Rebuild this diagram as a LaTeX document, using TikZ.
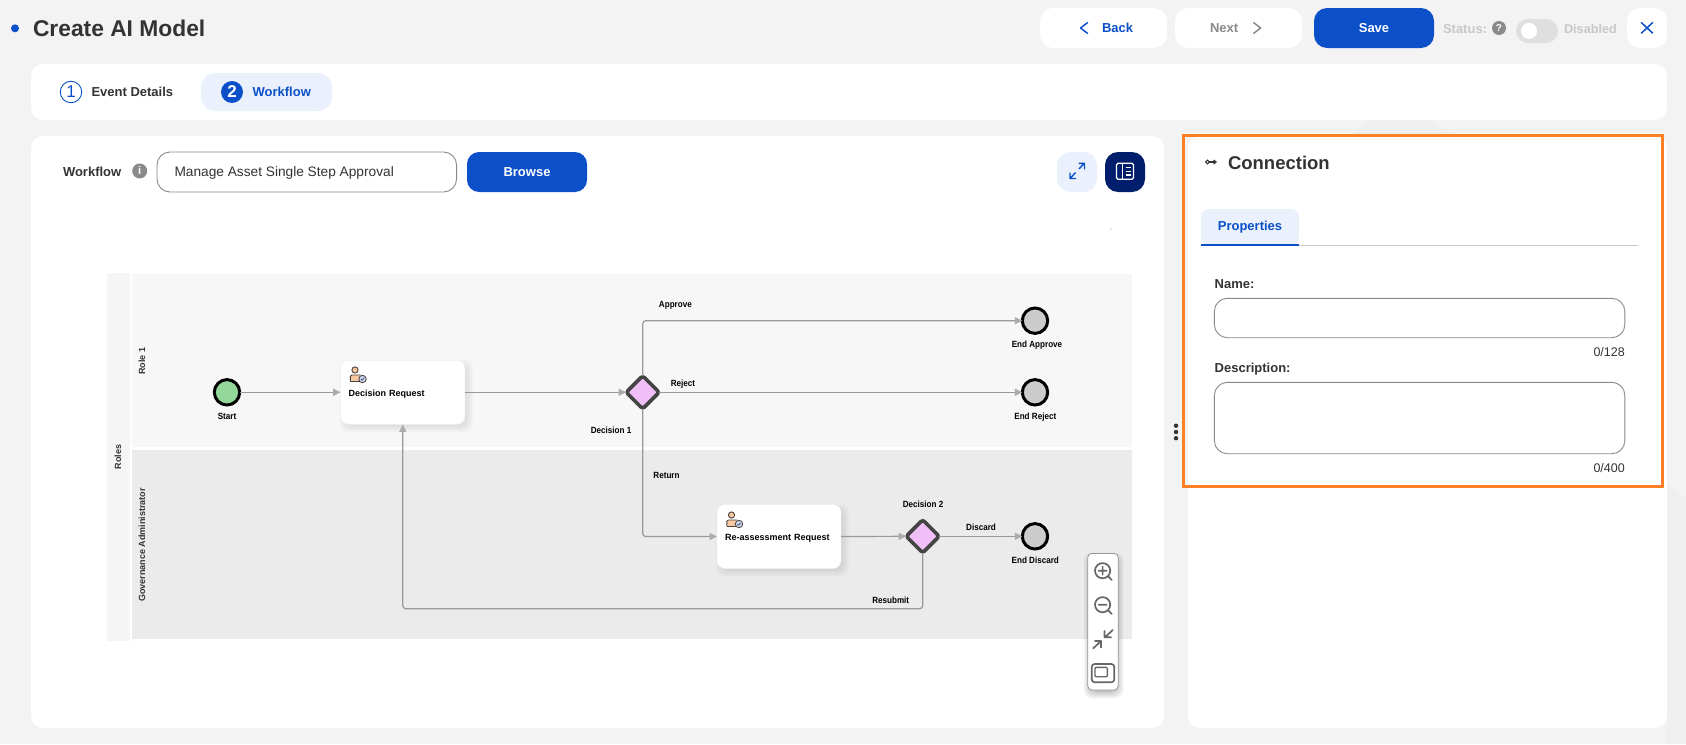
\documentclass[tikz,border=0pt]{standalone}
\usepackage{fontspec}
\setmainfont{Liberation Sans}
\newfontfamily\narrowfont[FakeStretch=0.9]{Liberation Sans}
\usetikzlibrary{arrows.meta,shapes.geometric,calc}
\definecolor{pagebg}{HTML}{F3F3F3}
\definecolor{wmark}{HTML}{EFEFEF}
\definecolor{brand}{HTML}{0B50C8}
\definecolor{navy}{HTML}{001E6C}
\definecolor{tint}{HTML}{EAF1FD}
\definecolor{ink}{HTML}{333333}
\definecolor{mute}{HTML}{8A8A8A}
\definecolor{pale}{HTML}{C8C8C8}
\definecolor{lineg}{HTML}{999999}
\definecolor{tipg}{HTML}{ABABAB}
\definecolor{toolg}{HTML}{666666}
\definecolor{laneA}{HTML}{F7F7F7}
\definecolor{laneB}{HTML}{EBEBEB}
\definecolor{rolebg}{HTML}{F5F5F5}
\definecolor{hilite}{HTML}{FF7F27}
\definecolor{startg}{HTML}{93D89A}
\definecolor{endg}{HTML}{CCCCCC}
\definecolor{gatef}{HTML}{F0BFF8}
\definecolor{gated}{HTML}{444444}
\definecolor{peach}{HTML}{F7C9A0}
\definecolor{badge}{HTML}{C9D8EE}
\definecolor{iconink}{HTML}{4A3F3A}
\newcommand{\fs}[1]{\fontsize{#1}{#1}\selectfont}
% soft shadow: x1,y1,x2,y2 of the box, dx,dy offset, opacity of each of the layers
\newcommand{\softbox}[7]{%
  \foreach \kk in {-2,-1,...,5}{%
    \fill[black,opacity=#7,rounded corners=8] ({#1+#5-\kk},{#2+#6-\kk}) rectangle ({#3+#5+\kk},{#4+#6+\kk});}}
\tikzset{
  card/.style={fill=white,rounded corners=12},
  btn/.style={rounded corners=13},
  txt/.style={inner sep=0,outer sep=0,text=ink,font=\fs{13}\bfseries},
  dtxt/.style={inner sep=0,outer sep=0,anchor=base,text=black,font=\narrowfont\fs{9}\bfseries},
  reg/.style={inner sep=0,outer sep=0,text=ink,font=\fs{12.5}},
  fieldbox/.style={draw=mute,line width=0.9,fill=white,rounded corners=13},
  conn/.style={draw=lineg,line width=1.2,rounded corners=3,-{Triangle[length=7.5,width=7,color=tipg]}},
  eventnode/.style={circle,draw=black,line width=3,minimum size=25.4,inner sep=0,outer sep=0},
  gatenode/.style={diamond,aspect=1,draw=gated,line width=3.6,rounded corners=2.5,fill=gatef,minimum width=33,minimum height=33,inner sep=0,outer sep=0},
  tasknode/.style={fill=white,rounded corners=8,minimum height=64,inner xsep=8,inner ysep=0,outer sep=0,align=left,font=\fs{9}\bfseries,text height=8,text depth=0,draw=white!94!black,line width=.4},
  toolicon/.style={draw=toolg,line width=1.7,line cap=round,line join=round},
  personicon/.pic={
    \draw[draw=iconink,line width=.9,fill=peach] (-.5,-4) circle (3.1);
    \fill[fill=peach,rounded corners=1.5] (-5.2,1) rectangle (5.5,7);
    \draw[draw=iconink,line width=.9,rounded corners=1.5] (-5.2,7) -- (-5.2,1) -- (5,1);
    \draw[draw=iconink,line width=.9] (-5.2,7) -- (5.5,7);
    \draw[draw=iconink,line width=.8,fill=badge] (7,5) circle (3.7);
    \draw[draw=iconink!70!blue,line width=.6] (5.4,5) -- (6.7,6.2) -- (8.6,3.8);
  },
}
\begin{document}
\begin{tikzpicture}[x=1pt,y=-1pt]
\useasboundingbox (0,0) rectangle (1686,744);
\fill[pagebg] (0,0) rectangle (1686,744);
% faint watermark
\fill[wmark] (1350,136) -- (1375,118) -- (1425,118) -- (1455,136) -- cycle;
\fill[wmark] (1667,484) -- (1686,497) -- (1686,744) -- (1667,744) -- cycle;
% header
\fill[brand] (15,28.3) circle (4);
\node[txt,anchor=base west,font=\fs{22.8}\bfseries] (title) at (33,36) {Create AI Model};
\fill[white,btn] (1040,8) rectangle (1167,48);
\draw[brand,line width=1.5,line cap=round,line join=round] (1087.5,22.7) -- (1080.5,28) -- (1087.5,33.3);
\node[txt,anchor=base west,text=brand] (back) at (1102,32.5) {Back};
\fill[white,btn] (1175,8) rectangle (1302,48);
\node[txt,anchor=base west,text=mute] (next) at (1210,32.5) {Next};
\draw[mute,line width=1.5,line cap=round,line join=round] (1253.7,22.7) -- (1260.7,28) -- (1253.7,33.3);
\fill[brand,btn] (1314,8) rectangle (1434,48);
\node[txt,anchor=base,text=white] (save) at (1374,32.5) {Save};
\node[txt,anchor=base west,text=pale] (status) at (1443,33.3) {Status:};
\fill[mute] (1499,28) circle (7);
\node[txt,text=white,font=\fs{10}\bfseries] (qmark) at (1499,28) {?};
\fill[laneB!95!black,rounded corners=12] (1516,19) rectangle (1558,43);
\fill[white] (1529,31) circle (8);
\node[txt,anchor=base west,text=pale,font=\fs{12.7}\bfseries] (disabled) at (1564,33.3) {Disabled};
\fill[white,btn] (1627,8) rectangle (1667,48);
\draw[brand,line width=1.5,line cap=round] (1641.5,22.7) -- (1652.5,33) (1652.5,22.7) -- (1641.5,33);
% step bar
\fill[card] (31,64) rectangle (1667,120);
\fill[tint,rounded corners=14] (201,73) rectangle (332,111);
\node[circle,draw=brand,fill=white,line width=.9,minimum size=21.5,inner sep=0,text=brand,font=\fs{17}] (step1) at (71,92) {1};
\node[txt,anchor=base west] (stepA) at (91.5,96) {Event Details};
\node[circle,fill=brand,minimum size=22,inner sep=0,text=white,font=\fs{17}\bfseries] (step2) at (232,92) {2};
\node[txt,anchor=base west,text=brand] (stepB) at (252.6,96) {Workflow};
% panels
\fill[card] (31,136) rectangle (1164,728);
\fill[card] (1188,136) rectangle (1667,728);
% workflow row
\node[txt,anchor=base west] (wflabel) at (63,176) {Workflow};
\fill[mute] (139.7,171) circle (7.5);
\node[txt,text=white,font=\fs{11}\bfseries] (wfinfo) at (139.7,171) {i};
\draw[fieldbox] (157,152) rectangle (456.6,192);
\node[reg,anchor=base west,font=\fs{13.7}] (wfname) at (174.5,176.3) {Manage Asset Single Step Approval};
\fill[brand,rounded corners=12] (467,152) rectangle (587,192);
\node[txt,anchor=base,text=white] (browse) at (527,176) {Browse};
\fill[tint,btn] (1057,152) rectangle (1097,192);
\draw[brand,line width=1.4,line join=round] (1070.5,178) -- (1075.5,172.5) (1070,172.5) -- (1070,178.5) -- (1076,178.5);
\draw[brand,line width=1.4,line join=round] (1084,163.5) -- (1079,169) (1078.5,163.3) -- (1084.5,163.3) -- (1084.5,169.3);
\fill[navy,btn] (1105,152) rectangle (1145,192);
\draw[white,line width=1.3,rounded corners=1.5] (1116.5,163.3) rectangle (1133.5,179.3);
\draw[white,line width=1.3] (1122.5,163.3) -- (1122.5,179.3) (1125.5,167.5) -- (1130.5,167.5) (1125.5,171.3) -- (1130.5,171.3) (1125.5,175.1) -- (1130.5,175.1);
\fill[pale] (1110.7,229) circle (.8);
% lanes
\fill[rolebg] (107,273) rectangle (130,641);
\fill[laneA] (132,274) rectangle (1132,447);
\fill[laneB] (132,450) rectangle (1132,639);
\node[inner sep=0,rotate=90,font=\fs{9}\bfseries,text=ink] (roles) at (118,457) {Roles};
\node[inner sep=0,rotate=90,font=\fs{9}\bfseries,text=ink] (role1) at (142,361) {Role 1};
\node[inner sep=0,rotate=90,font=\fs{9}\bfseries,text=ink] (role2) at (142,545) {Governance Administrator};
% soft shadows below the tasks
\softbox{340.7}{360.3}{465}{424.3}{3.5}{3.5}{.011}
\softbox{717}{505}{841}{568.3}{3.5}{3.5}{.011}
% nodes of the flow
\node[eventnode,fill=startg] (start) at (227,392.3) {};
\node[dtxt] (startL) at (227,419) {Start};
\node[tasknode,text width=108.3] (t1) at (402.8,392.3) {Decision Request};
\pic at (355.5,374) {personicon};
\node[gatenode] (d1) at (642.7,392.3) {};
\node[dtxt] (d1L) at (611,433.3) {Decision 1};
\node[tasknode,text width=108] (t2) at (779,536.5) {Re-assessment Request};
\pic at (732,519) {personicon};
\node[gatenode] (d2) at (922.7,536.3) {};
\node[dtxt] (d2L) at (923,507.3) {Decision 2};
\node[eventnode,fill=endg] (ea) at (1035,320.7) {};
\node[dtxt] (eaL) at (1037,347) {End Approve};
\node[eventnode,fill=endg] (er) at (1035,392.3) {};
\node[dtxt] (erL) at (1035.3,419) {End Reject};
\node[eventnode,fill=endg] (ed) at (1035,536.3) {};
\node[dtxt] (edL) at (1035.3,563) {End Discard};
\coordinate (rb) at (402.8,608.7);
% connectors
\draw[conn] (start.east) -- (t1.west);
\draw[conn] (t1.east) -- (d1.west);
\draw[conn] (d1.north) |- (ea.west);
\draw[conn] (d1.east) -- (er.west);
\draw[conn] (d1.south) |- (t2.west);
\draw[conn] (t2.east) -- (d2.west);
\draw[conn] (d2.east) -- (ed.west);
\draw[conn] (d2.south) |- (rb) -- (t1.south);
% connector labels
\node[dtxt] (lApprove) at (675.4,307) {Approve};
\node[dtxt] (lReject) at (683,386.3) {Reject};
\node[dtxt] (lReturn) at (666.5,478) {Return};
\node[dtxt] (lDiscard) at (981,530.3) {Discard};
\node[dtxt] (lResubmit) at (890.7,603.3) {Resubmit};
% zoom toolbar
\softbox{1088}{554}{1118}{690}{.5}{3.5}{.03}
\node[fill=white,draw=lineg,line width=.8,rounded corners=4,minimum width=30.4,minimum height=136.5,inner sep=0] (toolbar) at (1103,621.7) {};
\draw[toolicon] (1102.6,570.7) circle (7.6) (1098.6,570.7) -- (1106.6,570.7) (1102.6,566.7) -- (1102.6,574.7) (1108.2,576.3) -- (1111.7,580);
\draw[toolicon] (1102.6,604.7) circle (7.6) (1098.6,604.7) -- (1106.6,604.7) (1108.2,610.3) -- (1111.7,614);
\draw[toolicon] (1093.3,648.3) -- (1101,641) (1095,641) -- (1101,641) -- (1101,647.5);
\draw[toolicon] (1112.7,630) -- (1105,637.3) (1104.5,631) -- (1104.5,637.3) -- (1111,637.3);
\draw[toolicon,rounded corners=3] (1091.7,664) rectangle (1114.3,682.3);
\draw[toolicon,line width=1.4,rounded corners=1] (1095,667.3) rectangle (1107.3,676.7);
% divider dots
\foreach \yy in {425.7,432,438.2} \fill[ink] (1176,\yy) circle (2.2);
% connection panel
\draw[ink,line width=1.1] (1207.5,162) circle (1.9);
\draw[ink,line width=1.1,-{Straight Barb[length=2.5,width=4]}] (1209.4,162) -- (1217,162);
\node[txt,anchor=base west,font=\fs{18.5}\bfseries] (conntitle) at (1228,169) {Connection};
\draw[pale,line width=1] (1200.8,245.5) -- (1638,245.5);
\fill[tint,rounded corners=8] (1200.8,245) -- (1200.8,209) -- (1299,209) -- (1299,245) -- cycle;
\fill[brand] (1200.8,243.5) rectangle (1299,245.8);
\node[txt,anchor=base,text=brand] (proptab) at (1250,230) {Properties};
\node[txt,anchor=base west] (namelab) at (1214.7,288.5) {Name:};
\draw[fieldbox] (1214.4,298.3) rectangle (1624.8,337.7);
\node[reg,anchor=base east] (namecount) at (1624.8,356) {0/128};
\node[txt,anchor=base west] (desclab) at (1214.7,372.3) {Description:};
\draw[fieldbox] (1214.4,382.3) rectangle (1624.8,453.7);
\node[reg,anchor=base east] (desccount) at (1624.8,472) {0/400};
% highlight frame
\draw[hilite,line width=3.3] (1183.7,135.7) rectangle (1662.5,486.3);
\end{tikzpicture}
\end{document}
